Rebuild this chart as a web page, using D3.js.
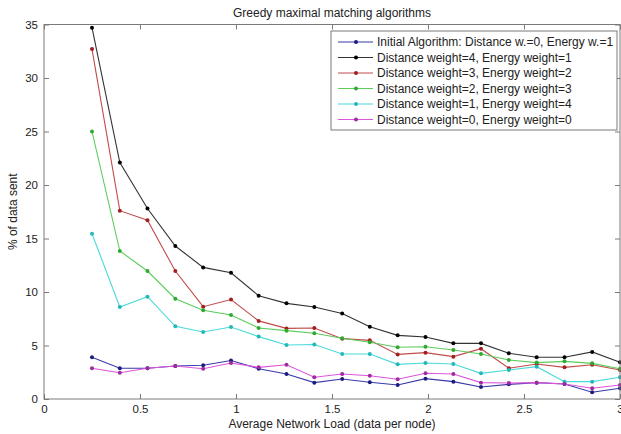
<!DOCTYPE html>
<html>
<head>
<meta charset="utf-8">
<script src="https://cdn.jsdelivr.net/npm/d3@7"></script>
<style>
  html, body { margin: 0; padding: 0; background: #fff; }
  svg { display: block; }
  text { font-family: "Liberation Sans", Arial, sans-serif; fill: #222; }
</style>
</head>
<body>
<svg id="chart" width="621" height="434"></svg>
<script>
// Average network load (data per node) at which each run was measured
const load = [0.25, 0.395, 0.539, 0.684, 0.829, 0.974, 1.118, 1.263, 1.408, 1.553,
              1.697, 1.842, 1.987, 2.132, 2.276, 2.421, 2.566, 2.711, 2.855, 3.0];

// % of data sent, one array per weighting scheme
const initialAlg = [3.9, 2.87, 2.87, 3.08, 3.15, 3.6, 2.83, 2.34, 1.53, 1.87,
                    1.56, 1.31, 1.9, 1.62, 1.12, 1.37, 1.53, 1.4, 0.63, 1.0];
const dist4en1 = [34.7, 22.1, 17.8, 14.3, 12.3, 11.8, 9.65, 8.94, 8.6, 8.0,
                  6.76, 5.95, 5.8, 5.2, 5.2, 4.27, 3.9, 3.9, 4.4, 3.43];
const dist3en2 = [32.7, 17.6, 16.7, 11.96, 8.63, 9.3, 7.3, 6.6, 6.63, 5.64,
                  5.48, 4.17, 4.33, 3.96, 4.7, 2.87, 3.27, 2.96, 3.2, 2.71];
const dist2en3 = [25.0, 13.83, 11.96, 9.37, 8.29, 7.85, 6.64, 6.39, 6.14, 5.67,
                  5.3, 4.83, 4.89, 4.58, 4.2, 3.64, 3.4, 3.52, 3.33, 2.83];
const dist1en4 = [15.45, 8.6, 9.56, 6.79, 6.26, 6.73, 5.83, 5.05, 5.1, 4.2,
                  4.2, 3.24, 3.36, 3.27, 2.4, 2.71, 3.02, 1.62, 1.62, 2.03];
const dist0en0 = [2.87, 2.46, 2.87, 3.08, 2.83, 3.36, 2.96, 3.2, 2.03, 2.34,
                  2.18, 1.84, 2.4, 2.34, 1.53, 1.5, 1.53, 1.4, 1.0, 1.31];

const seriesNames = [
  "Initial Algorithm: Distance w.=0, Energy w.=1",
  "Distance weight=4, Energy weight=1",
  "Distance weight=3, Energy weight=2",
  "Distance weight=2,  Energy weight=3",
  "Distance weight=1, Energy weight=4",
  "Distance weight=0, Energy weight=0"
];
const seriesValues = [initialAlg, dist4en1, dist3en2, dist2en3, dist1en4, dist0en0];
const lineColors   = ["#3a3aaa", "#333333", "#c24a4a", "#5ccc5c", "#4adada", "#dd55dd"];
const markerColors = ["#1c1c80", "#000000", "#a02020", "#2faa2f", "#22b8b8", "#a02aa0"];

const xTicks = [0, 0.5, 1, 1.5, 2, 2.5, 3];
const yTicks = [0, 5, 10, 15, 20, 25, 30, 35];

const svg = d3.select("#chart");
const plot = { left: 44, right: 620, top: 24.5, bottom: 399 };

const x = d3.scaleLinear().domain([0, 3]).range([plot.left, plot.right]);
const y = d3.scaleLinear().domain([0, 35]).range([plot.bottom, plot.top]);

// data lines and markers
const line = d3.line().x((d, i) => x(load[i])).y(d => y(d));
const g = svg.append("g");
seriesValues.forEach((vals, s) => {
  g.append("path")
    .datum(vals)
    .attr("d", line)
    .attr("fill", "none")
    .attr("stroke", lineColors[s])
    .attr("stroke-width", 1.1);
  g.selectAll(null)
    .data(vals)
    .enter().append("circle")
    .attr("cx", (d, i) => x(load[i]))
    .attr("cy", d => y(d))
    .attr("r", 2)
    .attr("fill", markerColors[s]);
});

// axes with inward ticks on all four sides
const axisColor = "#7a7a7a";
const tickLen = 5;
function styleAxis(sel) {
  sel.select(".domain").remove();
  sel.selectAll(".tick line").attr("stroke", axisColor);
  sel.selectAll(".tick text").style("font-size", "11.5px").attr("fill", "#222");
}
svg.append("g")
  .attr("transform", `translate(0,${plot.bottom})`)
  .call(d3.axisBottom(x).tickValues(xTicks).tickFormat(d3.format("")).tickSizeInner(-tickLen).tickSizeOuter(0).tickPadding(6))
  .call(styleAxis);
svg.append("g")
  .attr("transform", `translate(0,${plot.top})`)
  .call(d3.axisTop(x).tickValues(xTicks).tickFormat("").tickSizeInner(-tickLen).tickSizeOuter(0))
  .call(styleAxis);
svg.append("g")
  .attr("transform", `translate(${plot.left},0)`)
  .call(d3.axisLeft(y).tickValues(yTicks).tickFormat(d3.format("")).tickSizeInner(-tickLen).tickSizeOuter(0).tickPadding(6))
  .call(styleAxis);
svg.append("g")
  .attr("transform", `translate(${plot.right},0)`)
  .call(d3.axisRight(y).tickValues(yTicks).tickFormat("").tickSizeInner(-tickLen).tickSizeOuter(0))
  .call(styleAxis);

// plot frame
svg.append("rect")
  .attr("x", plot.left).attr("y", plot.top)
  .attr("width", plot.right - plot.left).attr("height", plot.bottom - plot.top)
  .attr("fill", "none").attr("stroke", axisColor).attr("stroke-width", 1);

// title and axis labels
svg.append("text")
  .attr("x", 332).attr("y", 17)
  .attr("text-anchor", "middle").style("font-size", "12px")
  .text("Greedy maximal matching algorithms");
svg.append("text")
  .attr("x", 332).attr("y", 428)
  .attr("text-anchor", "middle").style("font-size", "12px")
  .text("Average Network Load (data per node)");
svg.append("text")
  .attr("transform", `translate(17,${(plot.top + plot.bottom) / 2}) rotate(-90)`)
  .attr("text-anchor", "middle").style("font-size", "12px")
  .text("% of data sent");

// legend
const lg = svg.append("g");
lg.append("rect")
  .attr("x", 331).attr("y", 31)
  .attr("width", 286).attr("height", 99)
  .attr("fill", "#fff").attr("stroke", axisColor).attr("stroke-width", 1);
seriesNames.forEach((name, s) => {
  const ly = 42 + s * 15.5;
  lg.append("line")
    .attr("x1", 338).attr("x2", 373).attr("y1", ly).attr("y2", ly)
    .attr("stroke", lineColors[s]).attr("stroke-width", 1.1);
  lg.append("circle")
    .attr("cx", 356).attr("cy", ly).attr("r", 2).attr("fill", markerColors[s]);
  lg.append("text")
    .attr("x", 377).attr("y", ly + 4)
    .style("font-size", "12px")
    .text(name);
});
</script>
</body>
</html>
